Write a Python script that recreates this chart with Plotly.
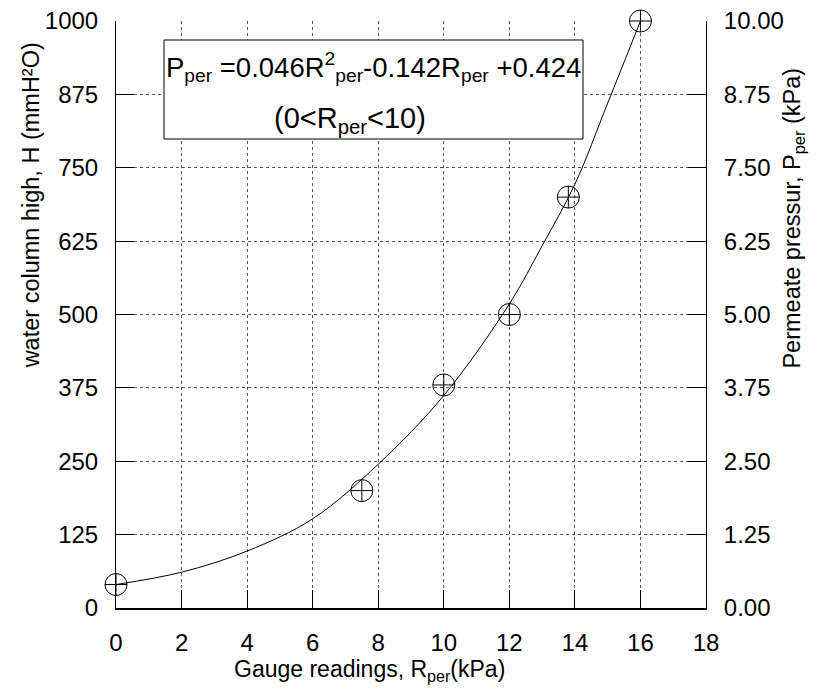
import plotly.graph_objects as go

# Measured points
R_pts = [0, 7.5, 10, 12, 13.8, 16]
H_pts = [40, 200, 380, 500, 700, 1000]

# Fitted curve
curve_R = [0, 2, 4, 6, 8, 10, 12, 13, 14, 15, 16]
curve_H = [40, 61, 97, 152, 245, 362, 518, 617, 722, 860, 1000]

x_ticks = [0, 2, 4, 6, 8, 10, 12, 14, 16, 18]
yl_ticks = [0, 125, 250, 375, 500, 625, 750, 875, 1000]
yr_ticks = [0, 1.25, 2.5, 3.75, 5, 6.25, 7.5, 8.75, 10]

x_title = "Gauge readings, R<sub>per</sub>(kPa)"
yl_title = "water column high, H (mmH²O)"
yr_title = "Permeate pressur, P<sub>per</sub> (kPa)"
eq_line1 = "P<sub>per</sub> =0.046R<sup>2</sup><sub>per</sub>-0.142R<sub>per</sub> +0.424"
eq_line2 = "(0&lt;R<sub>per</sub>&lt;10)"

FONT = "Arial, Liberation Sans, sans-serif"

fig = go.Figure()
fig.add_trace(go.Scatter(x=curve_R, y=curve_H, mode="lines",
                         line=dict(color="black", width=1, shape="spline"),
                         showlegend=False, hoverinfo="skip"))
fig.add_trace(go.Scatter(x=R_pts, y=H_pts, mode="markers", cliponaxis=False,
                         marker=dict(symbol="circle-cross-open", size=22,
                                     color="black", line=dict(width=1, color="black")),
                         showlegend=False))
fig.add_trace(go.Scatter(x=[], y=[], yaxis="y2", showlegend=False, hoverinfo="skip"))

GRID = "#555"
# page has an 8px body margin, so margins are shifted by 8px
fig.update_layout(
    width=822, height=698,
    margin=dict(l=108, r=124, t=13, b=98),
    paper_bgcolor="white", plot_bgcolor="white",
    font=dict(family=FONT, color="black", size=24),
    xaxis=dict(range=[0, 18], tickvals=x_ticks, ticks="inside", ticklen=18,
               tickcolor="black", showline=True, linecolor="black", linewidth=2,
               showgrid=True, gridcolor=GRID, griddash="dot", gridwidth=1,
               zeroline=False, tickfont=dict(size=24), ticklabelstandoff=12,
               ticklabeloverflow="allow", automargin=False),
    yaxis=dict(range=[0, 1000], tickvals=yl_ticks, ticks="inside", ticklen=18,
               tickcolor="black", showline=True, linecolor="black", linewidth=1,
               showgrid=True, gridcolor=GRID, griddash="dot", gridwidth=1,
               zeroline=False, tickfont=dict(size=24), ticklabelstandoff=12,
               ticklabeloverflow="allow", automargin=False),
    yaxis2=dict(range=[0, 10], tickvals=yr_ticks, tickformat=".2f", overlaying="y", side="right",
                ticks="inside", ticklen=18, tickcolor="black", showline=True,
                linecolor="black", linewidth=1, showgrid=False, zeroline=False,
                tickfont=dict(size=24), ticklabelstandoff=12,
                ticklabeloverflow="allow", automargin=False),
)

# Axis titles
fig.add_annotation(xref="paper", yref="paper", x=0.430, y=-0.107,
                   xanchor="center", yanchor="middle", showarrow=False,
                   text=x_title, font=dict(size=23, family=FONT, color="black"))
fig.add_annotation(xref="paper", yref="paper", x=-0.144, y=0.686, textangle=-90,
                   xanchor="center", yanchor="middle", showarrow=False,
                   text=yl_title, font=dict(size=23.5, family=FONT, color="black"))
fig.add_annotation(xref="paper", yref="paper", x=1.149, y=0.665, textangle=-90,
                   xanchor="center", yanchor="middle", showarrow=False,
                   text=yr_title, font=dict(size=23.5, family=FONT, color="black"))

# Equation box (pixel positions measured relative to the plot area)
fig.add_shape(type="rect", xref="paper", yref="paper",
              x0=(164 - 116) / 590, x1=(583 - 116) / 590,
              y0=(608 - 139) / 587, y1=(608 - 40) / 587,
              line=dict(color="black", width=1), fillcolor="white", layer="above")
fig.add_annotation(
    xref="paper", yref="paper", x=0.436, y=0.921,
    xanchor="center", yanchor="middle", text=eq_line1,
    showarrow=False, font=dict(size=27.5, family=FONT, color="black"))
fig.add_annotation(
    xref="paper", yref="paper", x=0.397, y=0.832,
    xanchor="center", yanchor="middle", text=eq_line2,
    showarrow=False, font=dict(size=29, family=FONT, color="black"))

fig.write_html("out.html")
